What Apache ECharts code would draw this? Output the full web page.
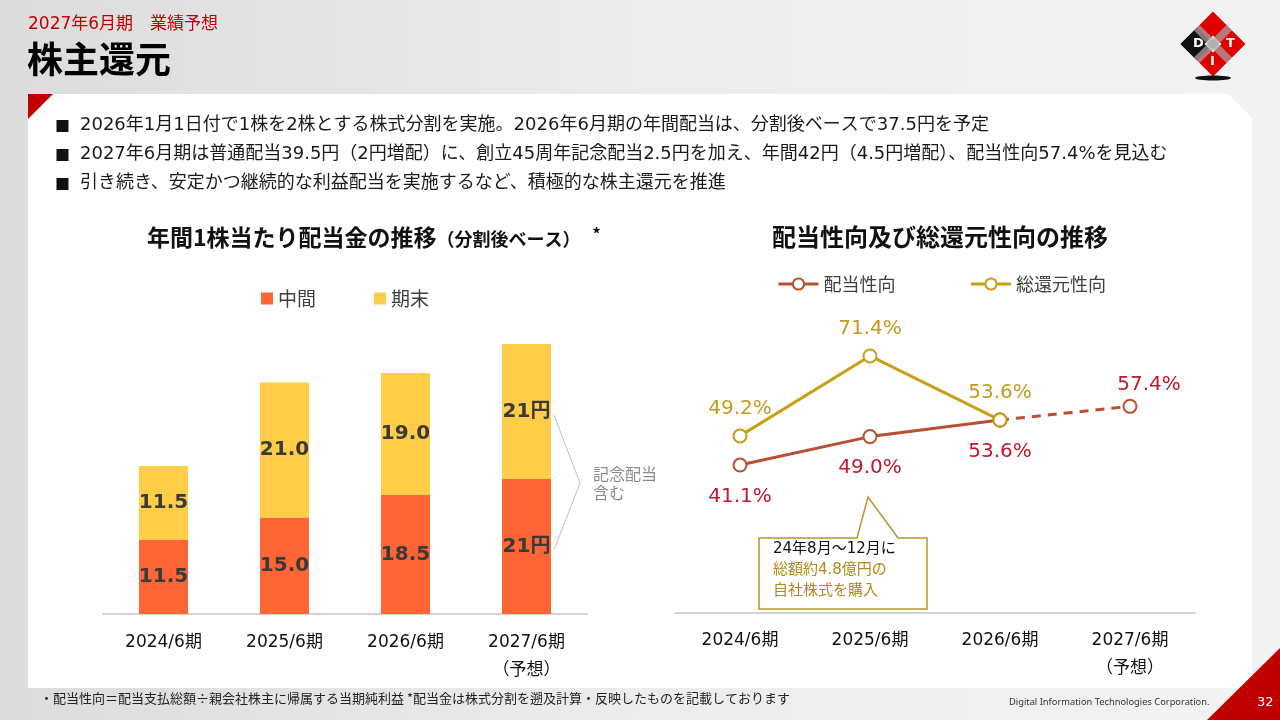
<!DOCTYPE html>
<html>
<head>
<meta charset="utf-8">
<script src="https://cdn.jsdelivr.net/npm/echarts@6/dist/echarts.min.js"></script>
<style>
  html, body { margin: 0; padding: 0; }
  #main { width: 1280px; height: 720px; }
</style>
</head>
<body>
<div id="main"></div>
<script>
// ---- data ----
const categories = ["2024/6期", "2025/6期", "2026/6期", "2027/6期\n（予想）"];
const interim = [11.5, 15.0, 18.5, 21];
const yearEnd = [11.5, 21.0, 19.0, 21];
const barNames = ["中間", "期末"];

const lineNames = ["配当性向", "総還元性向"];
const payoutRatio = [41.1, 49.0, 53.6, 57.4];
const totalReturn = [49.2, 71.4, 53.6, null];

const bullets = [
  "2026年1月1日付で1株を2株とする株式分割を実施。2026年6月期の年間配当は、分割後ベースで37.5円を予定",
  "2027年6月期は普通配当39.5円（2円増配）に、創立45周年記念配当2.5円を加え、年間42円（4.5円増配）、配当性向57.4%を見込む",
  "引き続き、安定かつ継続的な利益配当を実施するなど、積極的な株主還元を推進",
];

const JP = "'Noto Sans CJK JP', sans-serif";
const NUM = "'DejaVu Sans', 'Noto Sans CJK JP', sans-serif";

const C_ORANGE = "#FF6535";
const C_YELLOW = "#FFCD47";
const C_PAYOUT = "#B9502F";
const C_PAYOUT_LBL = "#C0192B";
const C_TOTAL = "#C9A015";
const C_TOTAL_LBL = "#C49B1E";

const chart = echarts.init(document.getElementById("main"));

// the last payout segment (forecast) is dashed
const payoutSolid = payoutRatio.map((v, i) => (i < 3 ? v : null));
const payoutDash = payoutRatio.map((v, i) => (i >= 2 ? v : null));

const barLabel = (idx, v) => (idx === 3 ? v + "円" : v.toFixed(1));

const graphics = [
  // page background
  {
    type: "rect", z: -10, silent: true,
    shape: { x: 0, y: 0, width: 1280, height: 720 },
    style: {
      fill: new echarts.graphic.LinearGradient(0, 0, 1, 0, [
        { offset: 0, color: "#dcdcdc" },
        { offset: 0.5, color: "#ececec" },
        { offset: 1, color: "#f3f3f3" },
      ]),
    },
  },
  // white panel
  {
    type: "polygon", z: -9, silent: true,
    shape: { points: [[28, 94], [1228, 94], [1252, 118], [1252, 688], [28, 688]] },
    style: { fill: "#ffffff" },
  },
  {
    type: "polygon", z: -8, silent: true,
    shape: { points: [[28, 94], [53, 94], [28, 119]] },
    style: { fill: "#C00000" },
  },
  {
    type: "polygon", z: -8, silent: true,
    shape: { points: [[1207, 720], [1280, 648], [1280, 720]] },
    style: { fill: "#C00000" },
  },
  // header
  {
    type: "text", left: 28, top: 16,
    style: { text: "2027年6月期　業績予想", font: "17px " + NUM, fill: "#C00000" },
  },
  {
    type: "text", left: 27, top: 41,
    style: { text: "株主還元", font: "bold 36px " + JP, fill: "#000000" },
  },
  // logo
  {
    type: "group", x: 1213, y: 44, rotation: Math.PI / 4,
    children: [
      { type: "rect", shape: { x: -23, y: -23, width: 46, height: 46 }, style: { fill: "#E00000" } },
      { type: "rect", shape: { x: -23, y: -23, width: 23, height: 23 }, style: { fill: "#111111" } },
      { type: "rect", shape: { x: -6, y: -6, width: 12, height: 12 }, style: { fill: "#f4f4f4" } },
      { type: "rect", shape: { x: -23, y: -4, width: 46, height: 8 }, style: { fill: "#aaaaaa", opacity: 0.7 } },
      { type: "rect", shape: { x: -4, y: -23, width: 8, height: 46 }, style: { fill: "#aaaaaa", opacity: 0.7 } },
    ],
  },
  { type: "text", x: 1193, y: 37, style: { text: "D", font: "bold 13px " + NUM, fill: "#fff" } },
  { type: "text", x: 1210, y: 55, style: { text: "I", font: "bold 13px " + NUM, fill: "#fff" } },
  { type: "text", x: 1226, y: 37, style: { text: "T", font: "bold 13px " + NUM, fill: "#fff" } },
  {
    type: "ellipse", silent: true,
    shape: { cx: 1213, cy: 78, rx: 18, ry: 2.5 },
    style: { fill: "#111111" },
  },
  // chart titles
  {
    type: "text", left: 147, top: 226,
    style: {
      text: "{a|年間1株当たり配当金の推移}{b|（分割後ベース）}{c|*}",
      rich: {
        a: { font: "bold 23px " + JP, fill: "#111", verticalAlign: "bottom" },
        b: { font: "bold 18px " + JP, fill: "#111", verticalAlign: "bottom", padding: [0, 0, 1, 0] },
        c: { font: "bold 16px " + JP, fill: "#111", verticalAlign: "top", padding: [0, 0, 0, 12] },
      },
    },
  },
  {
    type: "text", left: 772, top: 225,
    style: { text: "配当性向及び総還元性向の推移", font: "bold 24px " + JP, fill: "#111" },
  },
  // bracket for commemorative dividend
  {
    type: "polyline", silent: true,
    shape: { points: [[554, 415], [580, 483], [554, 550]] },
    style: { stroke: "#c0c0c0", lineWidth: 1, fill: null },
  },
  {
    type: "text", left: 593, top: 464,
    style: { text: "記念配当\n含む", font: "16px " + JP, fill: "#8a8a8a", lineHeight: 19 },
  },
  // callout
  {
    type: "polygon", z: 100,
    shape: { points: [[759, 538], [857, 538], [868, 497], [898, 538], [927, 538], [927, 609], [759, 609]] },
    style: { fill: "#ffffff", stroke: "#B8962E", lineWidth: 1.5 },
  },
  {
    type: "text", z: 101, left: 773, top: 542,
    style: {
      text: "{k|24年8月～12月に}\n{g|総額約4.8億円の}\n{g|自社株式を購入}",
      rich: {
        k: { font: "15px " + NUM, fill: "#111", lineHeight: 21 },
        g: { font: "15px " + NUM, fill: "#B08A18", lineHeight: 21 },
      },
    },
  },
  // footer
  {
    type: "text", left: 40, top: 692,
    style: {
      text: "・配当性向＝配当支払総額÷親会社株主に帰属する当期純利益 *配当金は株式分割を遡及計算・反映したものを記載しております",
      font: "13px " + JP, fill: "#222",
    },
  },
  {
    type: "text", left: 1009, top: 698,
    style: { text: "Digital Information Technologies Corporation.", font: "9.3px 'Noto Sans', sans-serif", fill: "#333" },
  },
  {
    type: "text", left: 1257, top: 696,
    style: { text: "32", font: "13px " + NUM, fill: "#ffffff" },
  },
];

bullets.forEach((t, i) => {
  graphics.push({
    type: "text", left: 55, top: 119 + i * 29,
    style: { text: "■", font: "15px " + JP, fill: "#111" },
  });
  graphics.push({
    type: "text", left: 80, top: 116 + i * 29,
    style: { text: t, font: "18px " + NUM, fill: "#1a1a1a" },
  });
});

chart.setOption({
  animation: false,
  textStyle: { fontFamily: JP },
  graphic: graphics,
  legend: [
    {
      data: barNames,
      left: 256, top: 284,
      icon: "rect", itemWidth: 12, itemHeight: 12, itemGap: 58,
      textStyle: { fontSize: 19, color: "#404040", fontFamily: JP },
    },
    {
      data: lineNames,
      left: 772, top: 270,
      itemWidth: 40, itemHeight: 14, itemGap: 74,
      lineStyle: { width: 3 },
      textStyle: { fontSize: 18, color: "#404040", fontFamily: JP },
    },
  ],
  grid: [
    { left: 103, width: 484, top: 270, height: 344 },
    { left: 675, width: 520, top: 253, height: 360 },
  ],
  xAxis: [
    {
      gridIndex: 0, type: "category", data: categories,
      axisLine: { lineStyle: { color: "#d4d4d4", width: 2 } },
      axisTick: { show: false },
      axisLabel: { color: "#111", fontSize: 17, fontFamily: NUM, margin: 15, lineHeight: 28 },
    },
    {
      gridIndex: 1, type: "category", data: categories,
      axisLine: { lineStyle: { color: "#d4d4d4", width: 2 } },
      axisTick: { show: false },
      axisLabel: { color: "#111", fontSize: 17, fontFamily: NUM, margin: 14, lineHeight: 28 },
    },
  ],
  yAxis: [
    { gridIndex: 0, type: "value", min: 0, max: 53.5, show: false },
    { gridIndex: 1, type: "value", min: 0, max: 100, show: false },
  ],
  series: [
    {
      name: barNames[0], type: "bar", stack: "dps", xAxisIndex: 0, yAxisIndex: 0,
      barWidth: 49, itemStyle: { color: C_ORANGE },
      data: interim,
      label: {
        show: true, position: "inside",
        formatter: (p) => barLabel(p.dataIndex, p.value),
        fontSize: 20, fontWeight: "bold", color: "#3a3a3a", fontFamily: NUM,
      },
    },
    {
      name: barNames[1], type: "bar", stack: "dps", xAxisIndex: 0, yAxisIndex: 0,
      barWidth: 49, itemStyle: { color: C_YELLOW },
      data: yearEnd,
      label: {
        show: true, position: "inside",
        formatter: (p) => barLabel(p.dataIndex, p.value),
        fontSize: 20, fontWeight: "bold", color: "#3a3a3a", fontFamily: NUM,
      },
    },
    {
      name: lineNames[0], type: "line", xAxisIndex: 1, yAxisIndex: 1,
      data: payoutSolid,
      symbol: "emptyCircle", symbolSize: 13,
      lineStyle: { color: C_PAYOUT, width: 3 },
      itemStyle: { color: C_PAYOUT, borderWidth: 2 },
      label: {
        show: true, position: "bottom", distance: 14,
        formatter: (p) => p.value.toFixed(1) + "%",
        fontSize: 20, color: C_PAYOUT_LBL, fontFamily: NUM,
      },
    },
    {
      name: "配当性向予想", type: "line", xAxisIndex: 1, yAxisIndex: 1,
      data: payoutDash,
      symbol: "emptyCircle", symbolSize: 13,
      lineStyle: { color: C_PAYOUT, width: 3, type: [9, 7] },
      itemStyle: { color: C_PAYOUT, borderWidth: 2 },
      label: {
        show: true, position: "top", distance: 4, offset: [19, 0],
        formatter: (p) => (p.dataIndex === 3 ? p.value.toFixed(1) + "%" : ""),
        fontSize: 20, color: C_PAYOUT_LBL, fontFamily: NUM,
      },
    },
    {
      name: lineNames[1], type: "line", xAxisIndex: 1, yAxisIndex: 1,
      data: totalReturn,
      symbol: "emptyCircle", symbolSize: 13,
      lineStyle: { color: C_TOTAL, width: 3 },
      itemStyle: { color: C_TOTAL, borderWidth: 2 },
      label: {
        show: true, position: "top", distance: 10,
        formatter: (p) => p.value.toFixed(1) + "%",
        fontSize: 20, color: C_TOTAL_LBL, fontFamily: NUM,
      },
    },
  ],
});
</script>
</body>
</html>
